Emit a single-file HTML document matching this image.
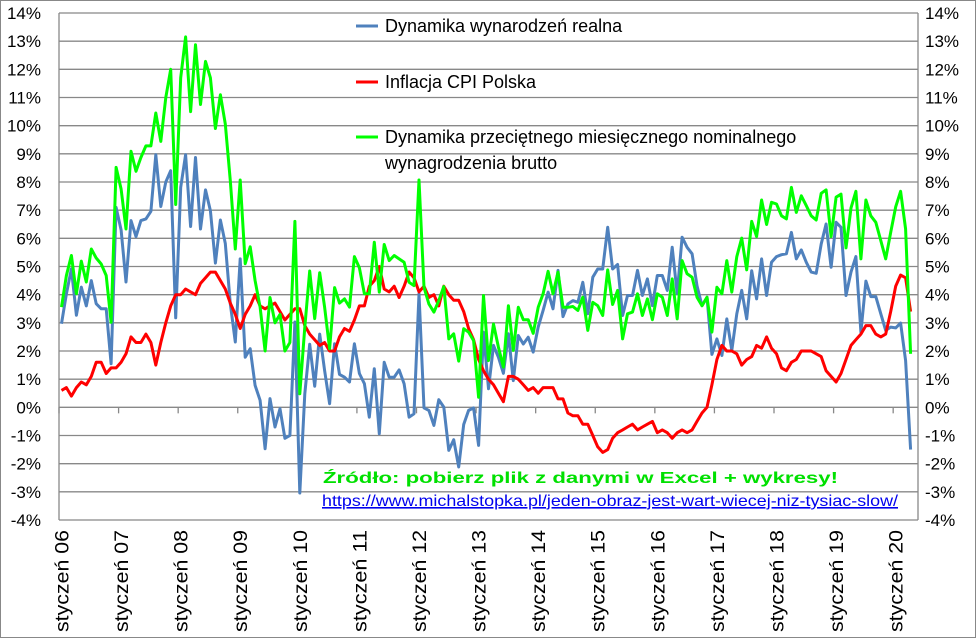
<!DOCTYPE html>
<html><head><meta charset="utf-8"><style>
html,body{margin:0;padding:0;background:#fff}
svg{display:block;font-family:"Liberation Sans",sans-serif}
</style></head><body>
<svg id="c" width="976" height="638" viewBox="0 0 976 638">
<rect x="0.5" y="0.5" width="975" height="637" fill="#fff" stroke="#888"/>
<g id="grid"></g>
<g id="ylab"></g>
<g id="xlab"></g>
<g id="series"></g>
<g>
<line x1="356" y1="26" x2="378" y2="26" stroke="#4f81bd" stroke-width="3"/>
<text x="385" y="32" font-size="18">Dynamika wynarodzeń realna</text>
<line x1="356" y1="82" x2="378" y2="82" stroke="#ff0000" stroke-width="3"/>
<text x="385" y="88" font-size="18">Inflacja CPI Polska</text>
<line x1="356" y1="137" x2="378" y2="137" stroke="#00ff00" stroke-width="3"/>
<text x="385" y="143" font-size="18">Dynamika przeciętnego miesięcznego nominalnego</text>
<text x="385" y="169" font-size="18">wynagrodzenia brutto</text>
</g>
<text x="323" y="483" font-size="16" font-weight="bold" fill="#00e000" textLength="515" lengthAdjust="spacingAndGlyphs">Źródło: pobierz plik z danymi w Excel + wykresy!</text>
<text x="322" y="506" font-size="16" fill="#0000ee" text-decoration="underline" textLength="576" lengthAdjust="spacingAndGlyphs">https://www.michalstopka.pl/jeden-obraz-jest-wart-wiecej-niz-tysiac-slow/</text>
</svg>
<script>
const realWages=[2.97,4.03,4.92,3.27,4.27,3.6,4.5,3.68,3.5,3.5,1.55,7.1,6.3,4.45,6.63,6.06,6.63,6.69,6.96,8.97,7.13,8.0,8.4,3.18,7.81,8.97,6.42,8.87,6.33,7.72,6.98,5.12,6.65,5.82,3.68,2.32,5.27,1.78,2.08,0.78,0.25,-1.47,0.31,-0.7,-0.05,-1.1,-1.0,3.03,-3.04,0.48,2.24,0.75,2.6,1.31,0.13,2.26,1.17,1.07,0.9,2.26,1.2,0.84,-0.35,1.37,-0.94,1.6,1.07,1.07,1.33,0.84,-0.35,-0.23,4.03,-0.02,-0.11,-0.64,0.27,0.01,-1.53,-1.15,-2.12,-0.61,-0.11,-0.02,-1.35,2.67,0.66,2.2,1.78,1.21,2.61,0.95,2.55,2.25,2.49,1.96,2.85,3.44,4.09,3.5,4.86,3.22,3.67,3.79,3.73,4.44,3.32,4.62,4.91,4.91,6.39,4.91,5.07,3.26,3.97,3.97,4.86,3.97,4.56,3.61,4.68,4.68,4.15,5.68,4.03,6.04,5.68,5.45,4.32,3.61,3.91,1.88,2.43,1.84,3.14,2.02,3.32,4.15,3.14,4.85,3.85,5.27,3.97,5.15,5.35,5.42,5.45,6.21,5.27,5.59,5.15,4.8,4.76,5.8,6.51,4.97,6.57,6.39,3.97,4.8,5.35,2.67,4.48,3.93,3.93,3.32,2.73,2.85,2.82,2.99,1.66,-1.5];
const cpi=[0.6,0.7,0.4,0.7,0.9,0.8,1.1,1.6,1.6,1.2,1.4,1.4,1.6,1.9,2.5,2.3,2.3,2.6,2.3,1.5,2.3,3.0,3.6,4.0,4.0,4.2,4.1,4.0,4.4,4.6,4.8,4.8,4.5,4.2,3.7,3.3,2.8,3.3,3.6,4.0,3.6,3.5,3.6,3.7,3.4,3.1,3.3,3.5,3.5,2.9,2.6,2.4,2.2,2.3,2.0,2.0,2.5,2.8,2.7,3.1,3.6,3.6,4.3,4.5,5.0,4.2,4.1,4.3,3.9,4.3,4.8,4.6,4.1,4.3,3.9,4.0,3.6,4.3,4.0,3.8,3.8,3.4,2.8,2.4,1.7,1.3,1.0,0.8,0.5,0.2,1.1,1.1,1.0,0.8,0.6,0.7,0.5,0.7,0.7,0.7,0.3,0.3,-0.2,-0.3,-0.3,-0.6,-0.6,-1.0,-1.4,-1.6,-1.5,-1.1,-0.9,-0.8,-0.7,-0.6,-0.8,-0.7,-0.6,-0.5,-0.9,-0.8,-0.9,-1.1,-0.9,-0.8,-0.9,-0.8,-0.5,-0.2,0.0,0.8,1.7,2.2,2.0,2.0,1.9,1.5,1.7,1.8,2.2,2.1,2.5,2.1,1.9,1.4,1.3,1.6,1.7,2.0,2.0,2.0,1.9,1.8,1.3,1.1,0.9,1.2,1.7,2.2,2.4,2.6,2.9,2.9,2.6,2.5,2.6,3.4,4.3,4.7,4.6,3.4];
const nominal=[3.56,4.68,5.39,4.03,5.19,4.45,5.62,5.3,5.09,4.68,3.02,8.52,7.75,6.33,9.09,8.38,8.87,9.28,9.28,10.45,9.44,11.0,12.0,7.2,11.7,13.15,10.5,12.87,10.75,12.28,11.7,9.9,11.1,10.06,8.05,5.62,8.07,5.1,5.7,4.5,3.56,2.0,3.9,3.0,3.3,2.0,2.3,6.6,0.48,2.85,4.84,3.15,4.78,3.56,2.08,4.25,3.7,3.85,3.56,5.35,4.95,4.03,4.03,5.86,4.09,5.78,5.21,5.39,5.27,5.15,4.44,4.32,8.07,4.26,3.67,3.38,3.79,4.29,2.43,2.61,1.64,2.79,2.67,2.37,0.36,3.97,1.66,2.96,2.14,1.43,3.61,2.02,3.55,3.11,3.11,2.63,3.55,4.03,4.83,4.03,4.8,3.55,3.55,3.58,3.44,3.91,2.73,3.73,3.61,3.26,4.88,3.65,4.15,2.43,3.32,3.38,4.03,3.26,3.85,3.11,4.03,3.91,3.26,4.56,3.14,5.21,4.74,4.62,3.91,3.61,3.91,2.67,4.26,4.03,5.21,4.09,5.35,6.01,4.88,6.6,6.06,7.36,6.49,7.28,7.22,6.8,6.69,7.81,6.92,7.51,7.16,6.8,6.65,7.6,7.72,6.06,7.46,7.57,5.66,7.08,7.67,5.27,7.36,6.8,6.57,5.92,5.27,6.21,7.12,7.67,6.33,1.9];
const yTicks=[14,13,12,11,10,9,8,7,6,5,4,3,2,1,0,-1,-2,-3,-4];
const yearLabels=["06","07","08","09","10","11","12","13","14","15","16","17","18","19","20"];
const NS="http://www.w3.org/2000/svg";
const L=59,R=918,T=13,B=520,NCAT=173;
const step=(R-L)/NCAT;
function y(v){return T+(14-v)*(B-T)/18;}
function x(i){return L+(i+0.5)*step;}
function mk(tag,attrs,parent){const e=document.createElementNS(NS,tag);for(const k in attrs)e.setAttribute(k,attrs[k]);parent.appendChild(e);return e;}
const grid=document.getElementById('grid'),ylab=document.getElementById('ylab'),xlab=document.getElementById('xlab'),ser=document.getElementById('series');
yTicks.forEach(t=>{
  const l=mk('line',{x1:L,x2:R,y1:y(t),y2:y(t),stroke:'#888','stroke-width':1.3},grid);
  
  
  const a=mk('text',{x:41,y:y(t)+6,'text-anchor':'end','font-size':17},ylab);a.textContent=t+'%';
  
  
  const b=mk('text',{x:925,y:y(t)+6,'font-size':17},ylab);b.textContent=t+'%';
  
  
});
const ax=mk('line',{x1:L,x2:L,y1:T,y2:B,stroke:'#888','stroke-width':1.3},grid);


const ax2=mk('line',{x1:R,x2:R,y1:T,y2:B,stroke:'#888','stroke-width':1.3},grid);


yearLabels.forEach((lab,k)=>{
  const tx=L+k*12*step;
  const tk=mk('line',{x1:tx,x2:tx,y1:y(0),y2:y(0)+6,stroke:'#888','stroke-width':1.3},grid);
  
  
  const cx=x(k*12)+7;
  const t=mk('text',{x:0,y:0,'font-size':19,'text-anchor':'end',textLength:102,lengthAdjust:'spacingAndGlyphs',transform:`translate(${cx},530) rotate(-90)`},xlab);
  t.textContent='styczeń '+lab;
  
  
});
function line(data,color,name){
  const d=data.map((v,i)=>(i?'L':'M')+x(i).toFixed(1)+' '+y(v).toFixed(1)).join(' ');
  const p=mk('path',{d:d,fill:'none',stroke:color,'stroke-width':3,'stroke-linejoin':'round'},ser);
  
  
}
line(realWages,'#4f81bd','real-wages-line');
line(cpi,'#ff0000','cpi-line');
line(nominal,'#00ff00','nominal-wages-line');
</script>
</body></html>
